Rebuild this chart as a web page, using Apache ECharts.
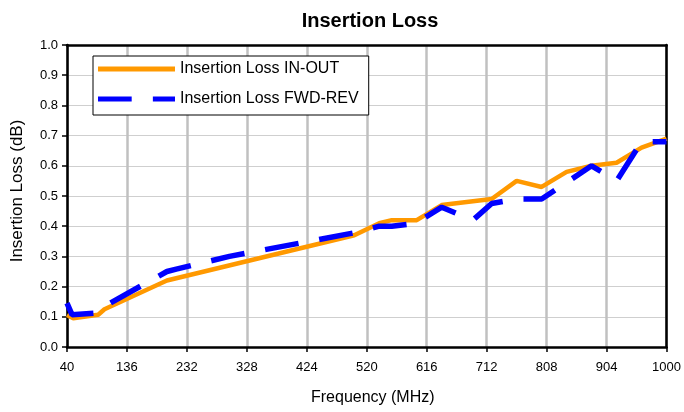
<!DOCTYPE html>
<html>
<head>
<meta charset="utf-8">
<script src="https://cdn.jsdelivr.net/npm/echarts@6/dist/echarts.min.js"></script>
<style>html,body{margin:0;padding:0;background:#fff}#c{width:684px;height:412px}</style>
</head>
<body>
<div id="c"></div>
<script>
const freqInOut = [40, 50, 90, 100, 200, 500, 540, 560, 600, 640, 720, 760, 800, 840, 880, 920, 960, 1000];
const lossInOut = [0.106, 0.095, 0.107, 0.125, 0.22, 0.37, 0.41, 0.42, 0.42, 0.47, 0.49, 0.55, 0.53, 0.58, 0.60, 0.61, 0.66, 0.69];
const freqFwdRev = [40, 48, 90, 100, 200, 215, 300, 500, 540, 560, 600, 610, 640, 690, 720, 760, 800, 880, 920, 960, 1000];
const lossFwdRev = [0.145, 0.107, 0.113, 0.135, 0.25, 0.258, 0.30, 0.378, 0.40, 0.40, 0.41, 0.425, 0.463, 0.42, 0.475, 0.49, 0.49, 0.60, 0.55, 0.68, 0.68];
const seriesNames = ['Insertion Loss IN-OUT', 'Insertion Loss FWD-REV'];
const xTicks = {min: 40, max: 1000, step: 96};
const yTicks = {min: 0, max: 1, step: 0.1};

const pairs = (xs, ys) => xs.map((x, i) => [x, ys[i]]);
const font = 'Arial, "Liberation Sans", sans-serif';
const chart = echarts.init(document.getElementById('c'));
chart.setOption({
  animation: false,
  title: {
    text: 'Insertion Loss', left: 365, textAlign: 'center', top: 6,
    textStyle: {fontFamily: font, fontSize: 20, fontWeight: 'bold', color: '#000'}
  },
  legend: {
    orient: 'vertical', left: 93, top: 56,
    padding: [4, 10, 7, 5], itemGap: 12, itemWidth: 77, itemHeight: 5,
    backgroundColor: '#fff', borderColor: '#000', borderWidth: 1, borderRadius: 0,
    textStyle: {fontFamily: font, fontSize: 16, color: '#000', lineHeight: 18},
    data: [
      {name: seriesNames[0], icon: 'path://M0,0H80V5H0Z'},
      {name: seriesNames[1], icon: 'path://M0,0H35V5H0Z M57,0H80V5H57Z'}
    ]
  },
  grid: {left: 67, right: 15, top: 45, bottom: 65},
  xAxis: [{
    type: 'value', min: xTicks.min, max: xTicks.max, interval: xTicks.step,
    name: 'Frequency (MHz)', nameLocation: 'middle', nameGap: 43,
    nameTextStyle: {fontFamily: font, fontSize: 16, color: '#000', padding: [0, 0, 0, 12]},
    axisLine: {show: true, onZero: false, lineStyle: {color: '#000', width: 2.5}},
    axisTick: {show: true, length: 5, lineStyle: {color: '#000', width: 1.5}},
    axisLabel: {fontFamily: font, fontSize: 13, color: '#000', margin: 14, formatter: v => String(v)},
    splitLine: {show: true, lineStyle: {color: '#c0c0c0', width: 2.5}}
  }, {
    type: 'value', position: 'top', min: xTicks.min, max: xTicks.max,
    axisLine: {show: true, onZero: false, lineStyle: {color: '#000', width: 2.5}},
    axisTick: {show: false}, axisLabel: {show: false}, splitLine: {show: false}
  }],
  yAxis: [{
    type: 'value', min: yTicks.min, max: yTicks.max, interval: yTicks.step,
    name: 'Insertion Loss (dB)', nameLocation: 'middle', nameGap: 41,
    nameTextStyle: {fontFamily: font, fontSize: 17, color: '#000', padding: [0, 0, 0, 10]},
    axisLine: {show: true, onZero: false, lineStyle: {color: '#000', width: 2.5}},
    axisTick: {show: true, length: 5, lineStyle: {color: '#000', width: 1.5}},
    axisLabel: {fontFamily: font, fontSize: 13, color: '#000', margin: 9, formatter: v => v.toFixed(1)},
    splitLine: {show: true, lineStyle: {color: '#cfcfcf', width: 1.2}}
  }, {
    type: 'value', position: 'right', min: yTicks.min, max: yTicks.max,
    axisLine: {show: true, onZero: false, lineStyle: {color: '#000', width: 2.5}},
    axisTick: {show: false}, axisLabel: {show: false}, splitLine: {show: false}
  }],
  series: [{
    name: seriesNames[0], type: 'line', symbol: 'none', color: '#ff9900',
    lineStyle: {color: '#ff9900', width: 4.5},
    data: pairs(freqInOut, lossInOut), z: 3
  }, {
    name: seriesNames[1], type: 'line', symbol: 'none', color: '#0000ff',
    lineStyle: {color: '#0000ff', width: 5.5, type: [34, 21]},
    data: pairs(freqFwdRev, lossFwdRev), z: 4
  }]
});
</script>
</body>
</html>
